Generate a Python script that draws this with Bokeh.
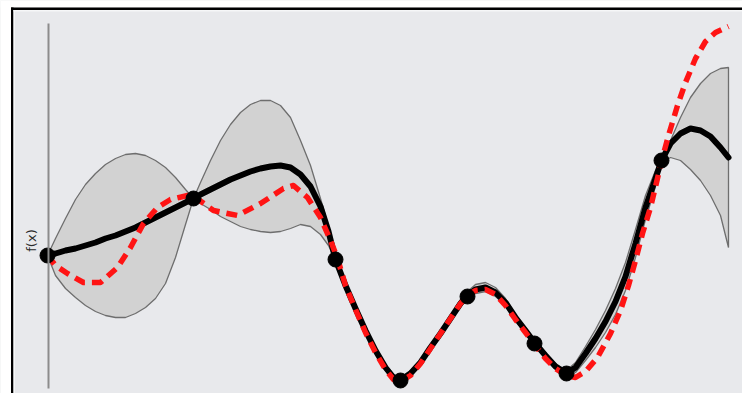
import math
from bokeh.plotting import figure
from bokeh.models import BoxAnnotation, Label
from bokeh.embed import file_html
from bokeh.resources import INLINE

# ---- data (arbitrary units) ----
# observed samples
obs_x = [0.0, 1.46, 2.88, 3.53, 4.20, 4.87, 5.19, 6.14]
obs_y = [0.0, 0.57, -0.04, -1.25, -0.41, -0.88, -1.18, 0.95]

# grid for posterior mean and confidence band
grid_x = [0.0, 0.08, 0.18, 0.28, 0.38, 0.48, 0.58, 0.68, 0.78, 0.88, 0.98, 1.08,
          1.18, 1.28, 1.38, 1.46, 1.53, 1.63, 1.73, 1.83, 1.93, 2.03, 2.13, 2.23,
          2.33, 2.43, 2.53, 2.63, 2.73, 2.81, 2.88, 2.98, 3.08, 3.18, 3.28, 3.38,
          3.46, 3.53, 3.63, 3.73, 3.83, 3.93, 4.03, 4.13, 4.20, 4.28, 4.38, 4.48,
          4.58, 4.68, 4.78, 4.87, 4.98, 5.08, 5.19, 5.28, 5.38, 5.48, 5.58, 5.68,
          5.78, 5.88, 5.98, 6.08, 6.14, 6.23, 6.33, 6.43, 6.53, 6.63, 6.73, 6.81]

mean_y = [0.0, 0.02, 0.05, 0.07, 0.10, 0.13, 0.17, 0.20, 0.24, 0.28, 0.33, 0.38,
          0.43, 0.48, 0.53, 0.57, 0.61, 0.66, 0.71, 0.76, 0.80, 0.84, 0.87, 0.89,
          0.90, 0.88, 0.81, 0.69, 0.49, 0.24, -0.04, -0.30, -0.53, -0.75, -0.95, -1.12,
          -1.22, -1.25, -1.18, -1.07, -0.92, -0.78, -0.63, -0.48, -0.40, -0.34, -0.32, -0.37,
          -0.47, -0.62, -0.75, -0.87, -1.00, -1.11, -1.18, -1.12, -0.98, -0.83, -0.66, -0.46,
          -0.21, 0.12, 0.48, 0.77, 0.95, 1.12, 1.22, 1.27, 1.25, 1.19, 1.08, 0.98]

upper_y = [0.0, 0.17, 0.37, 0.56, 0.71, 0.82, 0.91, 0.97, 1.01, 1.02, 1.00, 0.95,
           0.88, 0.78, 0.66, 0.57, 0.73, 0.95, 1.15, 1.31, 1.43, 1.51, 1.55, 1.55,
           1.50, 1.38, 1.15, 0.90, 0.57, 0.29, -0.02, -0.27, -0.50, -0.72, -0.92, -1.09,
           -1.19, -1.22, -1.15, -1.04, -0.89, -0.75, -0.60, -0.44, -0.36, -0.29, -0.27, -0.32,
           -0.43, -0.59, -0.72, -0.84, -0.97, -1.08, -1.15, -1.07, -0.91, -0.74, -0.55, -0.33,
           -0.07, 0.26, 0.60, 0.85, 0.96, 1.15, 1.38, 1.58, 1.72, 1.82, 1.87, 1.88]

lower_y = [0.0, -0.20, -0.33, -0.42, -0.50, -0.56, -0.60, -0.62, -0.62, -0.58, -0.52, -0.43,
           -0.28, -0.02, 0.31, 0.57, 0.52, 0.46, 0.39, 0.34, 0.29, 0.26, 0.24, 0.23,
           0.24, 0.27, 0.31, 0.29, 0.21, 0.10, -0.05, -0.33, -0.56, -0.78, -0.98, -1.15,
           -1.25, -1.28, -1.21, -1.10, -0.95, -0.81, -0.66, -0.51, -0.43, -0.38, -0.36, -0.41,
           -0.50, -0.65, -0.78, -0.90, -1.03, -1.14, -1.21, -1.17, -1.05, -0.92, -0.77, -0.59,
           -0.35, -0.02, 0.36, 0.69, 0.93, 0.98, 0.95, 0.86, 0.75, 0.60, 0.40, 0.08]

# true function (red dashed)
true_x = [0.0, 0.08, 0.20, 0.36, 0.53, 0.70, 0.83, 0.96, 1.10, 1.23, 1.40, 1.48,
          1.66, 1.90, 2.13, 2.36, 2.46, 2.60, 2.73, 2.83, 2.90, 2.98, 3.08, 3.18,
          3.28, 3.38, 3.46, 3.53, 3.63, 3.73, 3.83, 3.93, 4.03, 4.13, 4.20, 4.28,
          4.38, 4.48, 4.58, 4.68, 4.78, 4.87, 4.98, 5.08, 5.19, 5.28, 5.38, 5.50,
          5.63, 5.73, 5.81, 5.88, 5.95, 6.03, 6.09, 6.15, 6.21, 6.30, 6.38, 6.48,
          6.58, 6.68, 6.81]
true_y = [0.0, -0.10, -0.18, -0.27, -0.27, -0.12, 0.08, 0.32, 0.48, 0.56, 0.60, 0.58,
          0.45, 0.40, 0.52, 0.67, 0.70, 0.58, 0.38, 0.15, -0.03, -0.30, -0.54, -0.77,
          -0.97, -1.14, -1.24, -1.26, -1.20, -1.08, -0.93, -0.78, -0.63, -0.48, -0.40, -0.35,
          -0.34, -0.39, -0.50, -0.64, -0.77, -0.89, -1.03, -1.13, -1.20, -1.22, -1.16, -1.02,
          -0.78, -0.55, -0.30, -0.05, 0.22, 0.48, 0.73, 0.98, 1.20, 1.50, 1.73, 1.97,
          2.14, 2.23, 2.29]

y_label = "f(x)"

W, H = 742, 393
p = figure(width=W, height=H, x_range=(-0.47, 6.95), y_range=(-1.38, 2.55),
           output_backend="svg", toolbar_location=None,
           x_axis_location=None, y_axis_location=None, min_border=0)
p.grid.visible = False
p.outline_line_color = None
p.background_fill_color = "#e8e9ec"
p.border_fill_color = "#ffffff"

# frame decorations (white margin, black border, axis line)
p.add_layout(BoxAnnotation(left=0, right=10.5, left_units="screen", right_units="screen",
                           fill_color="white", fill_alpha=1, line_color=None))
p.add_layout(BoxAnnotation(top=H, bottom=H - 7, top_units="screen", bottom_units="screen",
                           fill_color="white", fill_alpha=1, line_color=None))
p.add_layout(BoxAnnotation(left=10.5, right=13, left_units="screen", right_units="screen",
                           top=H - 7, top_units="screen",
                           fill_color="black", fill_alpha=1, line_color=None))
p.add_layout(BoxAnnotation(left=10.5, left_units="screen",
                           top=H - 7, bottom=H - 9.5, top_units="screen", bottom_units="screen",
                           fill_color="black", fill_alpha=1, line_color=None))
p.add_layout(BoxAnnotation(left=13, right=14.5, left_units="screen", right_units="screen",
                           top=H - 9.5, top_units="screen",
                           fill_color="#f6f7f8", fill_alpha=1, line_color=None))
p.add_layout(BoxAnnotation(left=13, left_units="screen",
                           top=H - 9.5, bottom=H - 11, top_units="screen", bottom_units="screen",
                           fill_color="#f6f7f8", fill_alpha=1, line_color=None))
p.add_layout(BoxAnnotation(left=47, right=49, left_units="screen", right_units="screen",
                           top=H - 23, bottom=H - 388, top_units="screen", bottom_units="screen",
                           fill_color="#8c8c8c", fill_alpha=1, line_color=None))

# confidence band as polygon
band_x = grid_x + grid_x[::-1]
band_y = upper_y + lower_y[::-1]
p.patch(band_x, band_y, fill_color="#d2d2d2", fill_alpha=1,
        line_color="#6e6e6e", line_width=1.3)

# posterior mean
p.line(grid_x, mean_y, line_color="black", line_width=6,
       line_cap="round", line_join="round")

# true function
p.line(true_x, true_y, line_color="#ff1414", line_width=5.5, line_dash="11 7",
       line_join="round")

# observations
p.scatter(obs_x, obs_y, size=15, fill_color="black", line_color="black")

p.add_layout(Label(x=31, y=H - 240, x_units="screen", y_units="screen", text=y_label,
                   angle=math.pi / 2, text_align="center", text_baseline="middle",
                   text_font="DejaVu Sans", text_font_size="13px", text_color="#2a2a2a"))

open("out.html", "w").write(file_html(p, INLINE))
